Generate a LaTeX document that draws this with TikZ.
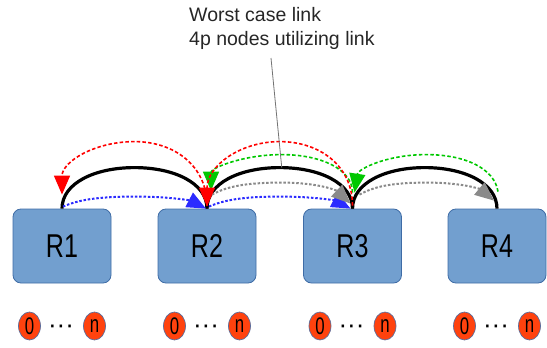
\documentclass[tikz,border=0pt]{standalone}
\usepackage{fontspec}
\setmainfont{Liberation Sans}
\newfontfamily\boxfont[FakeStretch=0.76]{Liberation Sans}
\newfontfamily\pinfont[FakeStretch=0.7]{Liberation Sans}
\usetikzlibrary{calc,arrows.meta,shapes.geometric}

\definecolor{boxfill}{HTML}{729FCF}
\definecolor{boxline}{HTML}{3F6CA6}
\definecolor{pinfill}{HTML}{FF420E}
\definecolor{pinline}{HTML}{5B6F9E}
\definecolor{flowred}{HTML}{FF0000}
\definecolor{flowgreen}{HTML}{00C800}
\definecolor{flowblue}{HTML}{2B2BFF}
\definecolor{flowgray}{HTML}{8A8A8A}

\tikzset{
  % rounded arch between two points: #1 = rise of the apex, #2 = inward lean at the ends
  hump/.style n args={2}{to path={
    let \p1=(\tikztostart), \p2=(\tikztotarget),
        \n1={(\x2-\x1)/2}, \n2={(\y1+\y2)/2+#1}
    in .. controls (\x1+#2*\n1, {\y1+0.62*(\n2*1pt-\y1)}) and (\x1+0.45*\n1, \n2*1pt) .. (\x1+\n1, \n2*1pt)
       .. controls (\x1+1.55*\n1, \n2*1pt) and (\x2-#2*\n1, {\y2+0.62*(\n2*1pt-\y2)}) .. (\tikztotarget) \tikztonodes}},
  router/.style={draw=boxline, line width=0.8pt, fill=boxfill, rounded corners=8pt,
    minimum width=98pt, minimum height=74pt, inner sep=0pt,
    font=\boxfont\fontsize{33}{33}\selectfont},
  hostpin/.style={ellipse, draw=pinline, line width=0.7pt, fill=pinfill,
    minimum width=22pt, minimum height=28pt, inner sep=0pt,
    font=\pinfont\fontsize{24}{24}\selectfont},
  hostdots/.style={anchor=base, inner sep=0pt, font=\fontsize{26}{26}\selectfont},
  bigtip/.style={-{Triangle[length=19pt,width=16pt]}},
  linkline/.style={draw=black, line width=3.2pt},
  redflow/.style={draw=flowred, line width=1.6pt, dash pattern=on 3.5pt off 2.2pt, bigtip},
  greenflow/.style={draw=flowgreen, line width=1.6pt, dash pattern=on 3.5pt off 2.2pt, bigtip},
  blueflow/.style={draw=flowblue, line width=2pt, dash pattern=on 2.5pt off 1.8pt, bigtip},
  grayflow/.style={draw=flowgray, line width=2pt, dash pattern=on 2.5pt off 1.8pt, bigtip},
  leader/.style={draw=black!55, line width=0.8pt},
}

\begin{document}
\begin{tikzpicture}[x=1pt,y=-1pt]
\useasboundingbox (0,0) rectangle (547,348);

% routers
\node[router] (R1) at (62,246)    {R1};
\node[router] (R2) at (207,246)   {R2};
\node[router] (R3) at (352.5,246) {R3};
\node[router] (R4) at (497,246)   {R4};

% attached hosts 0 ... n under every router
\foreach \i/\cx in {1/62,2/207,3/352.5,4/497}{
  \node[hostpin] (h\i a) at (\cx-32.5,326) {0};
  \node[hostpin] (h\i b) at (\cx+32.5,326) {n};
  \node[hostdots] (h\i d) at (\cx-1,333) {···};
}

% end points of the flows
\coordinate (red12s) at ($(R2.north)+(0,-3)$);
\coordinate (red12e) at ($(R1.north)+(0,-14)$);
\coordinate (red23s) at ($(R3.north)+(0,-3)$);
\coordinate (red23e) at ($(R2.north)+(0,-2)$);
\coordinate (grn34s) at ($(R4.north)+(1,-17)$);
\coordinate (grn34e) at ($(R3.north)+(2,-16)$);
\coordinate (grn23s) at ($(R3.north)+(0,-16)$);
\coordinate (grn23e) at ($(R2.north)+(4,-18)$);
\coordinate (gry23s) at ($(R2.north)+(5,-14)$);
\coordinate (gry23e) at ($(R3.north)+(-2,-5)$);
\coordinate (gry34s) at ($(R3.north)+(7,-14)$);
\coordinate (gry34e) at ($(R4.north)+(-3,-8)$);
\coordinate (blu12s) at ($(R1.north)+(1,-2)$);
\coordinate (blu12e) at ($(R2.north)+(-1,0)$);
\coordinate (blu23s) at ($(R2.north)+(2,-2)$);
\coordinate (blu23e) at ($(R3.north)+(-2,0)$);

% physical links
\draw[linkline] (R1.north) to[hump={41}{0}] (R2.north);
\draw[linkline] (R2.north) to[hump={41}{0}] (R3.north);
\draw[linkline] (R3.north) to[hump={41}{0}] (R4.north);

% traffic flows
\draw[blueflow] (blu12s) to[hump={11}{0.2}] (blu12e);
\draw[blueflow] (blu23s) to[hump={11}{0.2}] (blu23e);
\draw[grayflow] (gry23s) to[hump={16.5}{0.2}] (gry23e);
\draw[grayflow] (gry34s) to[hump={15}{0.2}] (gry34e);
\draw[greenflow] (grn23s) to[hump={37}{0}] (grn23e);
\draw[greenflow] (grn34s) to[hump={37.5}{0.05}] (grn34e);
\draw[redflow] (red12s) to[hump={58.5}{0}] (red12e);
\draw[redflow] (red23s) to[hump={64.5}{0}] (red23e);

% annotation
\node[anchor=north west, inner sep=0pt, align=left, text=black!85,
      font=\fontsize{19.5}{24}\selectfont] (note) at (189,7)
  {Worst case link\\4p nodes utilizing link};
\coordinate (lead) at (271,58);
\coordinate (peak23) at ($(R2.north)!0.5!(R3.north)+(2,-41)$);
\draw[leader] (lead) -- (peak23);
\end{tikzpicture}
\end{document}
